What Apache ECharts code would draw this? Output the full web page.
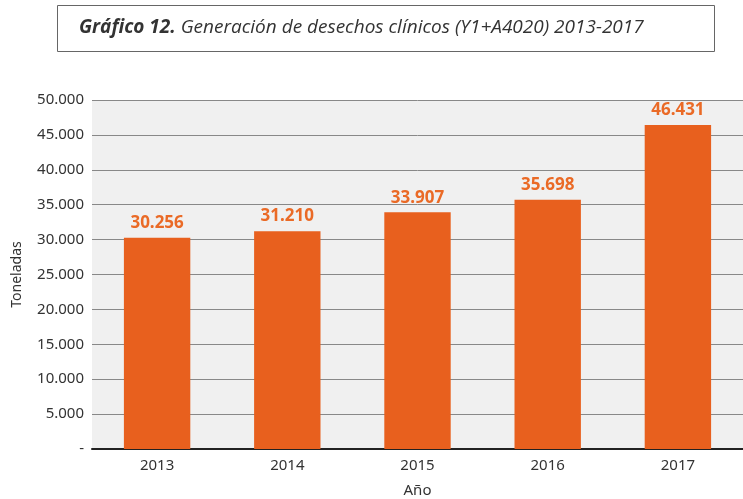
<!DOCTYPE html>
<html>
<head>
<meta charset="utf-8">
<script src="https://cdn.jsdelivr.net/npm/echarts@6/dist/echarts.min.js"></script>
<style>
html, body { margin: 0; padding: 0; background: #fff; }
#chart { width: 743px; height: 499px; }
</style>
</head>
<body>
<div id="chart"></div>
<script>
const years = ['2013', '2014', '2015', '2016', '2017'];
const toneladas = [30256, 31210, 33907, 35698, 46431];

// miles con punto, el cero como guion
function fmt(v) {
    if (v === 0) return '-';
    return String(v).replace(/\B(?=(\d{3})+(?!\d))/g, '.');
}

const myChart = echarts.init(document.getElementById('chart'));

const option = {
    title: {
        text: '{b|Gráfico 12.} Generación de desechos clínicos (Y1+A4020) 2013-2017',
        left: 57,
        top: 5,
        padding: [10, 22, 11, 22],
        borderColor: '#666',
        borderWidth: 1,
        textStyle: {
            fontFamily: 'Open Sans',
            fontStyle: 'italic',
            fontWeight: 'normal',
            fontSize: 19,
            color: '#333',
            width: 614,
            lineHeight: 26,
            align: 'center',
            rich: {
                b: { fontFamily: 'Open Sans', fontStyle: 'italic', fontWeight: 'bold', fontSize: 19, color: '#333', lineHeight: 26 }
            }
        }
    },
    grid: {
        left: 92,
        right: 0,
        top: 100,
        bottom: 50,
        outerBoundsMode: 'none',
        show: true,
        backgroundColor: '#f0f0f0',
        borderWidth: 0
    },
    xAxis: {
        type: 'category',
        data: years,
        name: 'Año',
        nameLocation: 'middle',
        nameGap: 34,
        nameTextStyle: { fontFamily: 'Noto Sans', fontSize: 15, color: '#333' },
        axisLine: { lineStyle: { color: '#222', width: 2 } },
        axisTick: { show: false },
        axisLabel: { fontFamily: 'Noto Sans', fontSize: 15, color: '#333', margin: 9 }
    },
    yAxis: {
        type: 'value',
        min: 0,
        max: 50000,
        interval: 5000,
        name: 'Toneladas',
        nameLocation: 'middle',
        nameGap: 68,
        nameTextStyle: { fontFamily: 'Noto Sans', fontSize: 14, color: '#333' },
        axisLine: { show: false },
        axisTick: { show: false },
        splitLine: { lineStyle: { color: '#888', width: 1 } },
        axisLabel: {
            fontFamily: 'Noto Sans',
            fontSize: 15,
            color: '#333',
            margin: 8,
            formatter: fmt
        }
    },
    series: [{
        type: 'bar',
        data: toneladas,
        barWidth: '51%',
        itemStyle: { color: '#e8601e' },
        label: {
            show: true,
            position: 'top',
            distance: 6,
            fontFamily: 'Noto Sans',
            fontWeight: 'bold',
            fontSize: 17,
            color: '#ea6a26',
            formatter: p => fmt(p.value)
        }
    }]
};

myChart.setOption(option);
</script>
</body>
</html>
